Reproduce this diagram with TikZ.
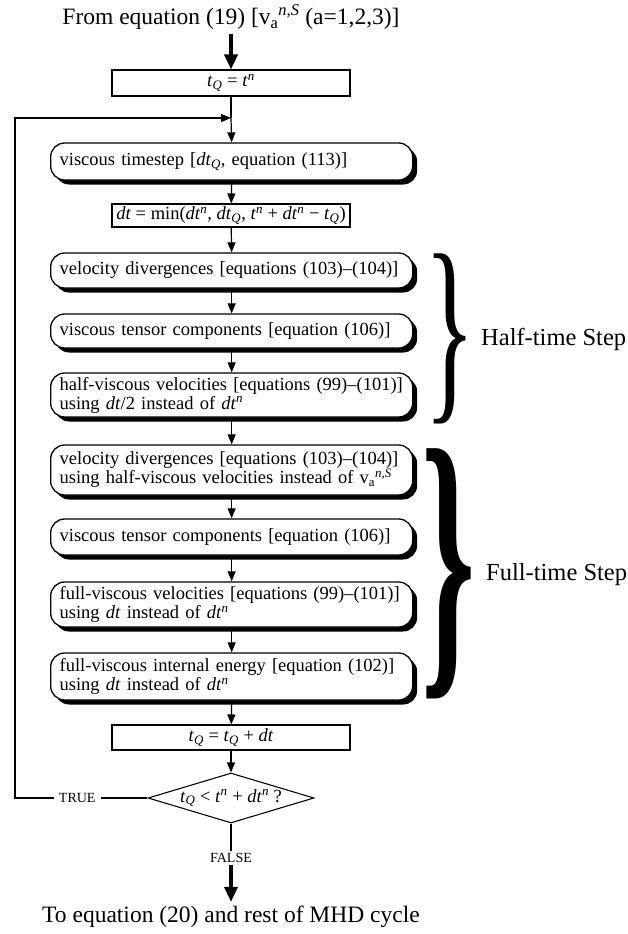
\documentclass[tikz,border=0pt]{standalone}
\usepackage{fontspec}
\setmainfont{Liberation Serif}
\usepackage{graphicx}
\usetikzlibrary{arrows.meta,shapes.geometric,shadows}
\newcommand{\boxfont}{\fontsize{18.5}{19}\selectfont}
\newcommand{\bigfont}{\fontsize{23.5}{26}\selectfont}
\newcommand{\sidefont}{\fontsize{24.5}{26}\selectfont}
\newcommand{\lblfont}{\fontsize{14}{16}\selectfont}
\newcommand{\tQ}{\textit{t}\textsubscript{\textit{Q}}}
\newcommand{\tn}{\textit{t}\textsuperscript{\textit{n}}}
\newcommand{\dtn}{\textit{dt}\textsuperscript{\textit{n}}}
\newcommand{\dtQ}{\textit{dt}\textsubscript{\textit{Q}}}
\newcommand{\vaS}{v\textsubscript{a}\textsuperscript{\textit{n,S}}}

\begin{document}
\begin{tikzpicture}[x=1pt,y=-1pt,
	roundbox/.style={draw,line width=1.3pt,rounded corners=14pt,fill=white,
		drop shadow={shadow xshift=4.5pt,shadow yshift=-4.5pt,opacity=1,fill=black},
		anchor=west,text width=344pt,inner xsep=9pt,inner ysep=0pt,align=left,font=\boxfont},
	rectbox/.style={draw,line width=1.1pt,minimum width=238pt,inner sep=0pt,font=\boxfont},
	flow/.style={line width=1.2pt,-{Triangle[length=10pt,width=8pt]}},
	bigarrow/.style={line width=3.5pt,-{Triangle[length=15pt,width=13pt]}},
	lbl/.style={font=\lblfont,inner sep=2pt}]
	\useasboundingbox (0,0) rectangle (628,934);

	\node[font=\bigfont,anchor=base] (src) at (231,25) {From equation (19) [\vaS{} (a=1,2,3)]};
	\node[rectbox,minimum height=26pt] (tq0) at (231,83) {\tQ{} = \tn};
	\coordinate (merge) at (231,118);
	\node[roundbox,minimum height=37pt] (visc) at (50,161.5) {viscous timestep [\dtQ, equation (113)]};
	\node[rectbox,minimum height=23pt] (dtbox) at (231,215.5) {\textit{dt} = min(\dtn, \dtQ, \tn{} + \dtn{} − \tQ)};
	\node[roundbox,minimum height=35pt] (div1) at (50,270.5) {velocity divergences [equations (103)--(104)]};
	\node[roundbox,minimum height=34pt] (ten1) at (50,331) {viscous tensor components [equation (106)]};
	\node[roundbox,minimum height=44pt] (half) at (50,395) {half-viscous velocities [equations (99)--(101)]\\ using \textit{dt}/2 instead of \dtn};
	\node[roundbox,minimum height=50pt] (div2) at (50,470) {velocity divergences [equations (103)--(104)]\\ using half-viscous velocities instead of \vaS};
	\node[roundbox,minimum height=36pt] (ten2) at (50,537) {viscous tensor components [equation (106)]};
	\node[roundbox,minimum height=45pt] (full) at (50,604.5) {full-viscous velocities [equations (99)--(101)]\\ using \textit{dt} instead of \dtn};
	\node[roundbox,minimum height=47pt] (ener) at (50,676.5) {full-viscous internal energy [equation (102)]\\ using \textit{dt} instead of \dtn};
	\node[rectbox,minimum height=25pt] (tqdt) at (231,737.5) {\tQ{} = \tQ{} + \textit{dt}};
	\node[draw,diamond,line width=1.1pt,aspect=3.3,minimum width=166pt,minimum height=50pt,inner sep=0pt,font=\boxfont] (dia) at (231,798) {\tQ{} {\textless} \tn{} + \dtn{} ?};
	\coordinate (loopcorner) at (15,798);
	\node[lbl] (falselbl) at (231,858) {FALSE};
	\node[font=\bigfont,anchor=base] (dst) at (231,922) {To equation (20) and rest of MHD cycle};

	\node[inner sep=0pt,anchor=west] (halfbrace) at (424,339) {\resizebox*{51pt}{170pt}{\}}};
	\node[inner sep=0pt,anchor=west] (fullbrace) at (421,573.5) {\resizebox*{54pt}{250pt}{\bfseries\}}};
	\node[font=\sidefont,anchor=west,inner sep=0pt] (halflbl) at (481,339) {Half-time Step};
	\node[font=\sidefont,anchor=west,inner sep=0pt] (fulllbl) at (486,575) {Full-time Step};

	\draw[bigarrow] (src) -- (tq0);
	\draw[line width=1.2pt] (tq0) -- (merge);
	\path[flow]
	(merge) edge (visc.north)
	(visc.south) edge (dtbox)
	(dtbox) edge (div1.north)
	(div1.south) edge (ten1.north)
	(ten1.south) edge (half.north)
	(half.south) edge (div2.north)
	(div2.south) edge (ten2.north)
	(ten2.south) edge (full.north)
	(full.south) edge (ener.north)
	(ener.south) edge (tqdt)
	(tqdt) edge (dia);
	\draw[flow] (dia.west) -- node[lbl,fill=white,pos=0.53,inner xsep=5pt] (truelbl) {TRUE} (loopcorner) |- (merge);
	\draw[line width=1.2pt] (dia) -- (falselbl);
	\draw[bigarrow] (falselbl) -- (dst);
\end{tikzpicture}
\end{document}
